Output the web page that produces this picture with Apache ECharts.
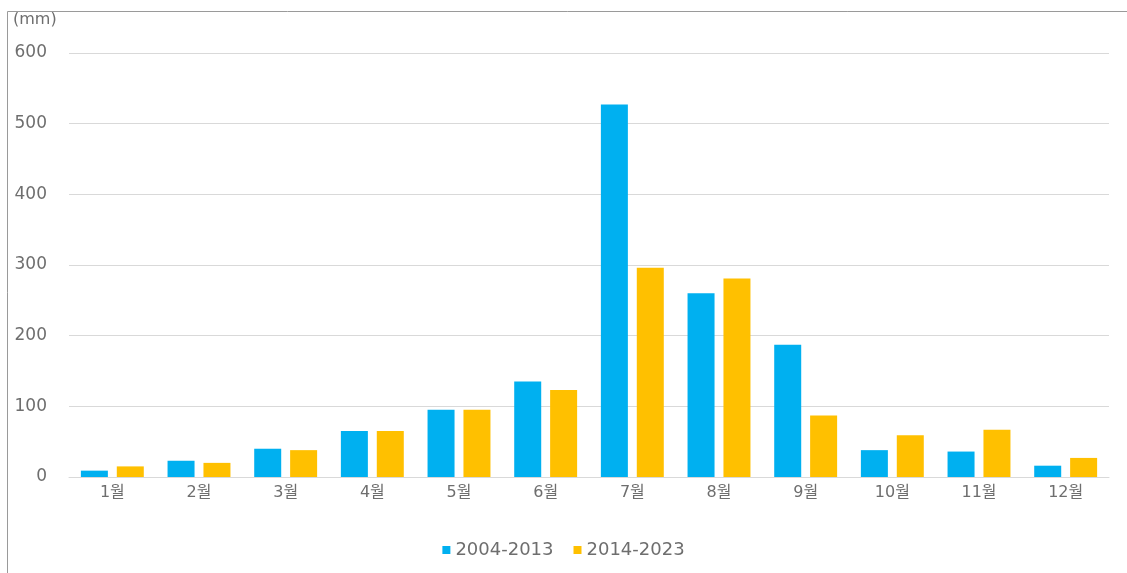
<!DOCTYPE html>
<html>
<head>
<meta charset="utf-8">
<script src="https://cdn.jsdelivr.net/npm/echarts@6/dist/echarts.min.js"></script>
<style>
  html, body { margin: 0; padding: 0; background: #fff; }
  #chart { width: 1127px; height: 573px; }
</style>
</head>
<body>
<div id="chart"></div>
<script>
const months = ["1월", "2월", "3월", "4월", "5월", "6월", "7월", "8월", "9월", "10월", "11월", "12월"];
const period1 = [9, 23, 40, 65, 95, 135, 527, 260, 187, 38, 36, 16];
const period2 = [15, 20, 38, 65, 95, 123, 296, 281, 87, 59, 67, 27];
const seriesNames = ["2004-2013", "2014-2023"];

const font = "'DejaVu Sans', 'Noto Sans CJK KR', sans-serif";
const textColor = "#6e6e6e";
const chart = echarts.init(document.getElementById("chart"));

const option = {
  animation: false,
  textStyle: { fontFamily: font },
  graphic: [
    {
      type: "rect",
      shape: { x: 7.5, y: 11.5, width: 1200, height: 700 },
      style: { fill: "none", stroke: "#9a9a9a", lineWidth: 1 },
      silent: true,
    },
    {
      type: "text",
      left: 13,
      top: 12,
      style: { text: "(mm)", fill: textColor, font: "16px " + font },
    },
  ],
  grid: { left: 69, right: 18, top: 53, bottom: 96 },
  legend: {
    bottom: 9,
    left: "center",
    itemWidth: 8,
    itemHeight: 8,
    itemGap: 20,
    icon: "rect",
    textStyle: { color: textColor, fontSize: 18, fontFamily: font },
    data: seriesNames,
  },
  xAxis: {
    type: "category",
    data: months,
    axisLine: { lineStyle: { color: "#d9d9d9" } },
    axisTick: { show: false },
    axisLabel: { color: textColor, fontSize: 16, margin: 8, fontFamily: font },
  },
  yAxis: {
    type: "value",
    min: 0,
    max: 600,
    interval: 100,
    splitLine: { lineStyle: { color: "#d9d9d9" } },
    axisLabel: { color: textColor, fontSize: 17, margin: 22, fontFamily: font },
  },
  series: [
    {
      name: seriesNames[0],
      type: "bar",
      data: period1,
      barWidth: 27,
      barGap: "33%",
      itemStyle: { color: "#00B0F0" },
    },
    {
      name: seriesNames[1],
      type: "bar",
      data: period2,
      barWidth: 27,
      itemStyle: { color: "#FFC000" },
    },
  ],
};

chart.setOption(option);
</script>
</body>
</html>
